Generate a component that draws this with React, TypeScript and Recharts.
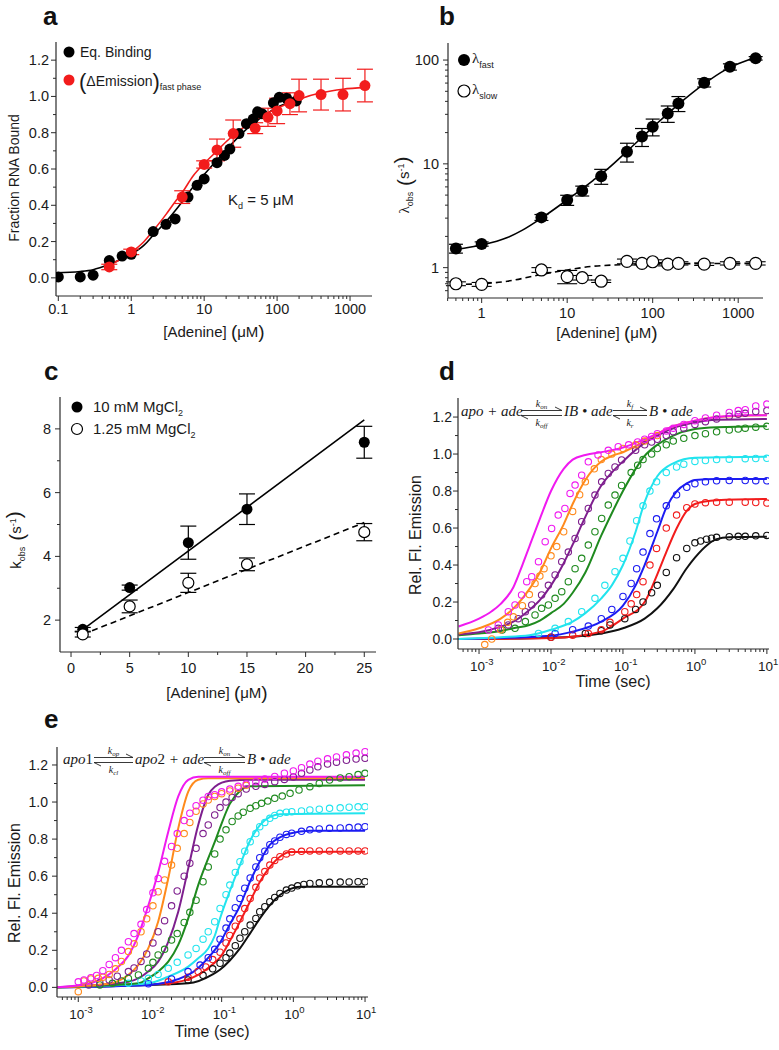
import React from 'react';
import { ComposedChart, Line, Scatter, XAxis, YAxis, ErrorBar } from 'recharts';

// ---------- panel a : fraction bound vs [adenine] ----------
const aEqBinding: [number, number][] = [
  [0.1, 0.005], [0.2, 0.005], [0.3, 0.015], [0.5, 0.095], [0.75, 0.12], [1, 0.13], [2, 0.255], [3, 0.295],
  [4, 0.325], [6, 0.445], [8, 0.51], [10, 0.545], [15, 0.635], [19, 0.675], [22.5, 0.71], [30, 0.795],
  [38, 0.85], [47, 0.875], [54, 0.915], [62, 0.905], [89, 0.965], [107, 0.995], [135, 0.99], [183, 0.975],
];
// [x, y, error]
const aEmission: [number, number, number][] = [
  [0.5, 0.06, 0.015], [1, 0.143, 0.015], [5, 0.445, 0.035], [10, 0.625, 0.02], [15, 0.705, 0.06],
  [25, 0.795, 0.075], [50, 0.825, 0.03], [75, 0.885, 0.05], [100, 0.92, 0.07], [150, 0.96, 0.06],
  [200, 1.005, 0.09], [400, 1.01, 0.085], [800, 1.01, 0.09], [1600, 1.06, 0.09],
];
const aEqFit: [number, number][] = [
  [0.093, 0.028], [0.2, 0.035], [0.3, 0.045], [0.5, 0.075], [0.7, 0.1], [1, 0.13], [1.5, 0.18], [2, 0.235],
  [3, 0.31], [4, 0.37], [5, 0.42], [7, 0.5], [10, 0.57], [15, 0.65], [20, 0.705], [30, 0.78], [50, 0.86],
  [70, 0.9], [100, 0.94], [140, 0.965], [175, 0.98],
];
const aEmFit: [number, number][] = [
  [0.5, 0.07], [0.7, 0.1], [1, 0.14], [1.5, 0.2], [2, 0.26], [3, 0.35], [4, 0.42], [5, 0.47], [7, 0.56],
  [10, 0.63], [15, 0.7], [20, 0.75], [30, 0.81], [50, 0.87], [100, 0.935], [200, 0.985], [400, 1.02],
  [800, 1.04], [1600, 1.05],
];

// ---------- panel b : observed rates ----------
const bFast: [number, number, number][] = [
  [0.5, 1.53, 0.15], [1, 1.69, 0.08], [5, 3.05, 0.2], [10, 4.48, 0.5], [15, 5.5, 0.6], [25, 7.6, 1.25],
  [50, 13.1, 2.7], [75, 18.3, 3.6], [100, 22.8, 4.2], [150, 30.6, 5.5], [200, 38.2, 6.3], [400, 60.5, 5.5],
  [800, 86, 6], [1600, 104, 4],
];
const bFastFit: [number, number][] = [
  [0.5, 1.5], [1, 1.65], [2, 1.95], [3, 2.3], [5, 3.0], [10, 4.5], [20, 6.9], [30, 9.0], [50, 13.2],
  [100, 22.5], [200, 37.5], [400, 59], [700, 80], [1000, 92], [1600, 106],
];
const bSlow: [number, number, number][] = [
  [0.5, 0.7, 0.03], [1, 0.69, 0.03], [5, 0.95, 0.05], [10, 0.82, 0.12], [15, 0.8, 0.04], [25, 0.74, 0.02],
  [50, 1.15, 0.06], [75, 1.1, 0.04], [100, 1.14, 0.05], [150, 1.08, 0.04], [200, 1.1, 0.04], [400, 1.08, 0.03],
  [800, 1.1, 0.04], [1600, 1.1, 0.04],
];
const bSlowFit: [number, number][] = [
  [0.5, 0.69], [1, 0.7], [2, 0.74], [5, 0.86], [10, 0.95], [20, 1.03], [50, 1.07], [100, 1.085], [400, 1.095], [1600, 1.1],
];

// ---------- panel c : k_obs vs [adenine] ----------
const cHighMg: [number, number, number][] = [[1, 1.71, 0.06], [5, 3.02, 0.08], [10, 4.43, 0.52], [15, 5.48, 0.48], [25, 7.58, 0.5]];
const cLowMg: [number, number, number][] = [[1, 1.55, 0.08], [5, 2.43, 0.2], [10, 3.17, 0.3], [15, 3.75, 0.2], [25, 4.76, 0.27]];
const cHighFit: [number, number][] = [[1, 1.7], [25, 8.28]];
const cLowFit: [number, number][] = [[1, 1.55], [25, 5.06]];

// ---------- panel d : kinetic traces, two-step binding model ----------
const dFitMagenta: [number, number][] = [[0.00052, 0.068], [0.001, 0.11], [0.0015, 0.15], [0.002, 0.19], [0.003, 0.28], [0.004, 0.4], [0.005, 0.5], [0.007, 0.65], [0.01, 0.8], [0.015, 0.92], [0.02, 0.97], [0.03, 0.995], [0.05, 1.01], [0.07, 1.02], [0.1, 1.035], [0.2, 1.08], [0.3, 1.11], [0.5, 1.15], [1, 1.18], [2, 1.2], [5, 1.21], [10, 1.21]];
const dFitOrange: [number, number][] = [[0.00052, 0.03], [0.001, 0.058], [0.002, 0.11], [0.003, 0.165], [0.005, 0.27], [0.007, 0.36], [0.01, 0.49], [0.015, 0.62], [0.02, 0.73], [0.03, 0.86], [0.05, 0.96], [0.07, 0.99], [0.1, 1.01], [0.2, 1.07], [0.3, 1.11], [0.5, 1.15], [1, 1.18], [2, 1.2], [10, 1.21]];
const dFitPurple: [number, number][] = [[0.00052, 0.025], [0.001, 0.036], [0.002, 0.067], [0.003, 0.094], [0.005, 0.157], [0.007, 0.21], [0.01, 0.29], [0.015, 0.41], [0.02, 0.51], [0.03, 0.66], [0.05, 0.83], [0.07, 0.9], [0.1, 0.96], [0.2, 1.06], [0.3, 1.1], [0.5, 1.14], [1, 1.17], [2, 1.185], [10, 1.19]];
const dFitGreen: [number, number][] = [[0.00052, 0.02], [0.001, 0.03], [0.002, 0.043], [0.003, 0.058], [0.005, 0.076], [0.007, 0.1], [0.01, 0.14], [0.015, 0.19], [0.02, 0.25], [0.03, 0.36], [0.05, 0.56], [0.07, 0.68], [0.1, 0.8], [0.15, 0.92], [0.2, 0.99], [0.3, 1.05], [0.5, 1.1], [1, 1.135], [2, 1.145], [10, 1.15]];
const dFitCyan: [number, number][] = [[0.00052, 0.0], [0.002, 0.01], [0.005, 0.02], [0.01, 0.05], [0.02, 0.094], [0.03, 0.14], [0.05, 0.22], [0.07, 0.29], [0.1, 0.4], [0.15, 0.58], [0.2, 0.74], [0.3, 0.88], [0.5, 0.95], [1, 0.98], [10, 0.985]];
const dFitBlue: [number, number][] = [[0.00052, 0.0], [0.01, 0.018], [0.02, 0.04], [0.05, 0.094], [0.1, 0.18], [0.15, 0.29], [0.2, 0.4], [0.3, 0.58], [0.4, 0.71], [0.56, 0.8], [0.76, 0.84], [1, 0.86], [2, 0.865], [10, 0.865]];
const dFitRed: [number, number][] = [[0.00052, 0.0], [0.01, 0.005], [0.05, 0.04], [0.07, 0.07], [0.1, 0.11], [0.2, 0.2], [0.3, 0.35], [0.4, 0.47], [0.56, 0.6], [0.76, 0.69], [1, 0.73], [2, 0.75], [10, 0.757]];
const dFitBlack: [number, number][] = [[0.00052, 0.0], [0.01, 0.007], [0.05, 0.03], [0.1, 0.058], [0.2, 0.11], [0.3, 0.166], [0.5, 0.27], [0.76, 0.38], [1, 0.44], [1.5, 0.51], [2, 0.54], [3, 0.55], [10, 0.553]];

const dObsMagenta: [number, number][] = [[0.00135, 0.049], [0.00185, 0.076], [0.00255, 0.148], [0.00316, 0.184], [0.0039, 0.238], [0.0046, 0.31], [0.0054, 0.337], [0.0067, 0.418], [0.0083, 0.526], [0.0102, 0.598], [0.0126, 0.67], [0.0156, 0.706], [0.0184, 0.787], [0.0216, 0.832], [0.0267, 0.886], [0.033, 0.958], [0.045, 0.995], [0.0625, 1.02], [0.086, 1.04], [0.12, 1.05], [0.16, 1.065], [0.2, 1.08], [0.25, 1.095], [0.3, 1.11], [0.4, 1.125], [0.5, 1.14], [0.7, 1.16], [1, 1.18], [1.4, 1.195], [2, 1.21], [3, 1.225], [4, 1.235], [5, 1.24], [7, 1.26], [10, 1.27]];
const dObsOrange: [number, number][] = [[0.0012, -0.03], [0.0015, 0.0], [0.002, 0.05], [0.0025, 0.09], [0.003, 0.12], [0.004, 0.18], [0.005, 0.24], [0.006, 0.3], [0.007, 0.34], [0.008, 0.38], [0.01, 0.45], [0.012, 0.5], [0.015, 0.58], [0.02, 0.69], [0.025, 0.78], [0.03, 0.85], [0.04, 0.92], [0.05, 0.97], [0.07, 1.0], [0.1, 1.03], [0.15, 1.05], [0.2, 1.07], [0.3, 1.1]];
const dObsPurple: [number, number][] = [[0.00185, 0.058], [0.00255, 0.076], [0.0035, 0.11], [0.0044, 0.148], [0.0054, 0.184], [0.0074, 0.238], [0.0092, 0.29], [0.0114, 0.346], [0.0141, 0.418], [0.0174, 0.47], [0.0216, 0.544], [0.0267, 0.634], [0.033, 0.706], [0.0408, 0.778], [0.0506, 0.85], [0.0625, 0.895], [0.0775, 0.93], [0.0957, 0.968], [0.15, 1.02], [0.2, 1.05], [0.25, 1.065], [0.3, 1.08], [0.4, 1.1], [0.5, 1.12], [0.7, 1.14], [1, 1.16], [1.4, 1.175], [2, 1.19], [3, 1.205], [4, 1.215], [5, 1.22], [7, 1.23], [10, 1.235]];
const dObsGreen: [number, number][] = [[0.0021, 0.049], [0.00316, 0.058], [0.0044, 0.094], [0.006, 0.13], [0.0074, 0.166], [0.0092, 0.184], [0.0114, 0.22], [0.0141, 0.256], [0.0174, 0.31], [0.0216, 0.38], [0.0267, 0.436], [0.033, 0.508], [0.0408, 0.58], [0.0506, 0.652], [0.0625, 0.724], [0.0775, 0.778], [0.0957, 0.83], [0.13, 0.9], [0.16, 0.94], [0.19, 0.97], [0.25, 1.0], [0.3, 1.03], [0.4, 1.05], [0.5, 1.07], [0.7, 1.085], [1, 1.1], [1.4, 1.11], [2, 1.12], [3, 1.13], [4, 1.135], [5, 1.14], [7, 1.145], [10, 1.15]];
const dObsCyan: [number, number][] = [[0.0067, 0.03], [0.0114, 0.058], [0.0174, 0.094], [0.0267, 0.148], [0.0408, 0.22], [0.056, 0.29], [0.0775, 0.364], [0.1, 0.436], [0.125, 0.53], [0.155, 0.64], [0.19, 0.72], [0.237, 0.8], [0.293, 0.85], [0.4, 0.9], [0.556, 0.93], [0.7, 0.945], [1, 0.96], [1.4, 0.965], [2, 0.97], [3, 0.972], [5, 0.975], [7, 0.976], [10, 0.977]];
const dObsBlue: [number, number][] = [[0.0114, 0.03], [0.02, 0.05], [0.033, 0.07], [0.05, 0.11], [0.07, 0.16], [0.1, 0.23], [0.13, 0.3], [0.155, 0.38], [0.19, 0.47], [0.237, 0.57], [0.293, 0.65], [0.4, 0.72], [0.556, 0.78], [0.77, 0.82], [1, 0.84], [1.4, 0.85], [2, 0.855], [3, 0.857], [5, 0.857], [7, 0.856], [10, 0.855]];
const dObsRed: [number, number][] = [[0.01, 0.01], [0.02, 0.02], [0.033, 0.03], [0.05, 0.05], [0.066, 0.09], [0.106, 0.148], [0.13, 0.19], [0.155, 0.24], [0.19, 0.31], [0.237, 0.4], [0.293, 0.49], [0.4, 0.6], [0.556, 0.67], [0.77, 0.71], [1, 0.73], [1.4, 0.737], [2, 0.74], [3, 0.74], [5, 0.74], [7, 0.738], [10, 0.735]];
const dObsBlack: [number, number][] = [[0.01, 0.01], [0.03, 0.03], [0.05, 0.045], [0.066, 0.076], [0.106, 0.11], [0.15, 0.16], [0.19, 0.2], [0.25, 0.25], [0.3, 0.29], [0.4, 0.36], [0.556, 0.44], [0.77, 0.49], [1, 0.52], [1.2, 0.53], [1.45, 0.54], [1.7, 0.545], [2, 0.55], [3, 0.553], [4, 0.555], [5, 0.555], [7, 0.558], [10, 0.56]];

// ---------- panel e : kinetic traces, conformational-selection model ----------
const eFitMagenta: [number, number][] = [[0.00047, 0], [0.00138, 0.02], [0.00262, 0.067], [0.0036, 0.11], [0.00498, 0.17], [0.00686, 0.28], [0.00946, 0.44], [0.013, 0.62], [0.018, 0.84], [0.0248, 1.03], [0.0342, 1.12], [0.0471, 1.137], [10, 1.137]];
const eFitOrange: [number, number][] = [[0.00047, 0], [0.00262, 0.02], [0.00498, 0.067], [0.00686, 0.12], [0.00946, 0.21], [0.013, 0.354], [0.018, 0.588], [0.0248, 0.858], [0.0342, 1.056], [0.0471, 1.12], [0.0649, 1.128], [10, 1.13]];
const eFitPurple: [number, number][] = [[0.00047, 0], [0.00498, 0.03], [0.00946, 0.085], [0.013, 0.139], [0.018, 0.246], [0.0248, 0.408], [0.0342, 0.642], [0.0471, 0.876], [0.0649, 1.038], [0.0804, 1.083], [0.13, 1.115], [0.248, 1.12], [10, 1.12]];
const eFitGreen: [number, number][] = [[0.00047, 0], [0.00686, 0.022], [0.00946, 0.049], [0.013, 0.085], [0.018, 0.139], [0.0248, 0.229], [0.0342, 0.372], [0.0471, 0.552], [0.0649, 0.696], [0.0804, 0.786], [0.0946, 0.86], [0.13, 0.99], [0.18, 1.06], [0.248, 1.085], [10, 1.09]];
const eFitCyan: [number, number][] = [[0.00047, 0], [0.00946, 0.022], [0.018, 0.058], [0.0342, 0.112], [0.0471, 0.157], [0.0649, 0.21], [0.0804, 0.28], [0.0946, 0.37], [0.13, 0.52], [0.18, 0.66], [0.248, 0.79], [0.342, 0.876], [0.472, 0.92], [0.65, 0.934], [10, 0.939]];
const eFitBlue: [number, number][] = [[0.00047, 0], [0.00946, 0.013], [0.0342, 0.067], [0.0687, 0.17], [0.0946, 0.24], [0.13, 0.34], [0.18, 0.44], [0.248, 0.57], [0.342, 0.68], [0.472, 0.77], [0.65, 0.81], [0.896, 0.83], [1.7, 0.845], [10, 0.845]];
const eFitRed: [number, number][] = [[0.00047, 0], [0.018, 0.022], [0.0471, 0.067], [0.075, 0.125], [0.0946, 0.16], [0.13, 0.25], [0.18, 0.354], [0.248, 0.462], [0.342, 0.57], [0.472, 0.65], [0.65, 0.705], [0.896, 0.73], [10, 0.732]];
const eFitBlack: [number, number][] = [[0.00047, 0], [0.0342, 0.022], [0.075, 0.07], [0.0946, 0.095], [0.13, 0.145], [0.18, 0.21], [0.248, 0.29], [0.342, 0.372], [0.472, 0.444], [0.65, 0.498], [0.896, 0.53], [1.24, 0.543], [10, 0.543]];

const eObsMagenta: [number, number][] = [[0.001, 0.03], [0.0012, 0.04], [0.0015, 0.052], [0.0018, 0.064], [0.0022, 0.09], [0.0027, 0.124], [0.0033, 0.16], [0.004, 0.2], [0.005, 0.246], [0.006, 0.29], [0.0075, 0.34], [0.009, 0.42], [0.011, 0.51], [0.013, 0.588], [0.016, 0.68], [0.02, 0.76], [0.024, 0.83], [0.03, 0.9], [0.036, 0.94], [0.044, 0.98], [0.055, 1.01], [0.065, 1.03], [0.08, 1.04], [0.1, 1.055], [0.13, 1.07], [0.17, 1.085], [0.22, 1.097], [0.3, 1.11], [0.4, 1.124], [0.55, 1.138], [0.75, 1.156], [1, 1.168], [1.3, 1.185], [1.7, 1.205], [2.2, 1.22], [3, 1.233], [4, 1.243], [5.5, 1.255], [7.5, 1.264], [10, 1.272]];
const eObsOrange: [number, number][] = [[0.001, -0.023], [0.0012, 0.035], [0.0015, 0.045], [0.0019, 0.049], [0.0022, 0.055], [0.0027, 0.07], [0.0033, 0.1], [0.004, 0.14], [0.005, 0.193], [0.006, 0.235], [0.0075, 0.3], [0.009, 0.37], [0.011, 0.44], [0.013, 0.516], [0.016, 0.58], [0.02, 0.66], [0.024, 0.75], [0.03, 0.83], [0.036, 0.89], [0.044, 0.95], [0.055, 0.99], [0.065, 1.011], [0.08, 1.03], [0.1, 1.045], [0.13, 1.06], [0.17, 1.075], [0.22, 1.09]];
const eObsPurple: [number, number][] = [[0.0014, 0.013], [0.002, 0.025], [0.0027, 0.04], [0.0035, 0.06], [0.005, 0.085], [0.006, 0.105], [0.0075, 0.14], [0.009, 0.18], [0.011, 0.24], [0.013, 0.3], [0.016, 0.36], [0.02, 0.44], [0.024, 0.52], [0.03, 0.6], [0.036, 0.67], [0.044, 0.75], [0.055, 0.83], [0.065, 0.876], [0.08, 0.93], [0.095, 0.97], [0.115, 1.0], [0.14, 1.025], [0.17, 1.045], [0.22, 1.07], [0.3, 1.085], [0.4, 1.095], [0.55, 1.11], [0.75, 1.122], [1, 1.135], [1.3, 1.155], [1.7, 1.173], [2.2, 1.19], [3, 1.205], [4, 1.215], [5.5, 1.225], [7.5, 1.232], [10, 1.236]];
const eObsGreen: [number, number][] = [[0.002, 0.013], [0.003, 0.022], [0.004, 0.035], [0.005, 0.048], [0.0069, 0.067], [0.0095, 0.103], [0.011, 0.135], [0.013, 0.175], [0.016, 0.205], [0.02, 0.255], [0.024, 0.29], [0.03, 0.35], [0.036, 0.405], [0.044, 0.47], [0.055, 0.57], [0.065, 0.65], [0.08, 0.72], [0.095, 0.8], [0.115, 0.85], [0.14, 0.895], [0.17, 0.925], [0.2, 0.945], [0.25, 0.966], [0.3, 0.98], [0.36, 0.993], [0.44, 1.005], [0.55, 1.02], [0.7, 1.032], [0.9, 1.047], [1.2, 1.065], [1.7, 1.083], [2.3, 1.1], [3.2, 1.119], [4.5, 1.13], [6, 1.137], [8, 1.148], [10, 1.155]];
const eObsCyan: [number, number][] = [[0.005, 0.022], [0.0075, 0.035], [0.0095, 0.049], [0.013, 0.07], [0.018, 0.103], [0.024, 0.135], [0.034, 0.175], [0.044, 0.21], [0.055, 0.26], [0.065, 0.3], [0.08, 0.354], [0.095, 0.426], [0.115, 0.5], [0.13, 0.552], [0.155, 0.62], [0.18, 0.678], [0.21, 0.735], [0.25, 0.786], [0.3, 0.83], [0.34, 0.867], [0.4, 0.89], [0.47, 0.912], [0.55, 0.928], [0.65, 0.939], [0.8, 0.945], [0.95, 0.948], [1.3, 0.952], [1.7, 0.957], [2.3, 0.961], [3.2, 0.966], [4.5, 0.969], [6, 0.972], [8, 0.974], [10, 0.975]];
const eObsBlue: [number, number][] = [[0.0095, 0.02], [0.02, 0.045], [0.034, 0.085], [0.05, 0.12], [0.065, 0.16], [0.08, 0.205], [0.095, 0.26], [0.115, 0.32], [0.13, 0.37], [0.155, 0.43], [0.18, 0.48], [0.21, 0.535], [0.25, 0.59], [0.3, 0.65], [0.34, 0.7], [0.4, 0.735], [0.47, 0.77], [0.55, 0.79], [0.65, 0.81], [0.8, 0.825], [0.95, 0.832], [1.3, 0.842], [1.7, 0.85], [2.3, 0.855], [3.2, 0.858], [4.5, 0.86], [6, 0.862], [8, 0.865], [10, 0.867]];
const eObsRed: [number, number][] = [[0.018, 0.03], [0.034, 0.055], [0.047, 0.085], [0.06, 0.11], [0.075, 0.15], [0.095, 0.19], [0.115, 0.24], [0.13, 0.28], [0.155, 0.33], [0.18, 0.37], [0.21, 0.425], [0.25, 0.48], [0.3, 0.54], [0.34, 0.59], [0.4, 0.625], [0.47, 0.66], [0.55, 0.685], [0.65, 0.705], [0.8, 0.72], [0.95, 0.73], [1.3, 0.734], [1.7, 0.736], [2.3, 0.736], [3.2, 0.736], [4.5, 0.736], [6, 0.736], [8, 0.736], [10, 0.736]];
const eObsBlack: [number, number][] = [[0.034, 0.04], [0.055, 0.065], [0.075, 0.1], [0.095, 0.13], [0.115, 0.16], [0.13, 0.185], [0.155, 0.225], [0.18, 0.265], [0.21, 0.3], [0.25, 0.336], [0.3, 0.372], [0.34, 0.408], [0.4, 0.435], [0.47, 0.462], [0.55, 0.485], [0.65, 0.507], [0.8, 0.525], [0.95, 0.536], [1.15, 0.548], [1.4, 0.555], [1.7, 0.561], [2.3, 0.564], [3.2, 0.567], [4.5, 0.568], [6, 0.569], [8, 0.57], [10, 0.57]];

// ---------- ticks ----------
const logMajors4 = [0.1, 1, 10, 100, 1000];
const aXMinor = [0.2, 0.3, 0.4, 0.5, 0.6, 0.7, 0.8, 0.9, 2, 3, 4, 5, 6, 7, 8, 9, 20, 30, 40, 50, 60, 70, 80, 90, 200, 300, 400, 500, 600, 700, 800, 900];
const fracMajors = [0, 0.2, 0.4, 0.6, 0.8, 1.0, 1.2];
const fracMinor = [0.1, 0.3, 0.5, 0.7, 0.9, 1.1];
const bXMajors = [1, 10, 100, 1000];
const bXMinor = [0.4, 0.5, 0.6, 0.7, 0.8, 0.9, 2, 3, 4, 5, 6, 7, 8, 9, 20, 30, 40, 50, 60, 70, 80, 90, 200, 300, 400, 500, 600, 700, 800, 900];
const bYMajors = [1, 10, 100];
const bYMinor = [0.6, 0.7, 0.8, 0.9, 2, 3, 4, 5, 6, 7, 8, 9, 20, 30, 40, 50, 60, 70, 80, 90];
const cXMajors = [0, 5, 10, 15, 20, 25];
const cXMinor = [2.5, 7.5, 12.5, 17.5, 22.5];
const cYMajors = [2, 4, 6, 8];
const cYMinor = [3, 5, 7];
const timeMajors = [0.001, 0.01, 0.1, 1, 10];
const timeMinor = [0.0006, 0.0007, 0.0008, 0.0009, 0.002, 0.003, 0.004, 0.005, 0.006, 0.007, 0.008, 0.009, 0.02, 0.03, 0.04, 0.05, 0.06, 0.07, 0.08, 0.09, 0.2, 0.3, 0.4, 0.5, 0.6, 0.7, 0.8, 0.9, 2, 3, 4, 5, 6, 7, 8, 9];

const SANS = '"Liberation Sans", Arial, sans-serif';
const SERIF = '"Liberation Serif", "Times New Roman", serif';
const AX = '#2a2a2a';
const TXT = '#1a1a1a';

const C = {
  magenta: '#f01af0',
  orange: '#ff8a1c',
  purple: '#7e1f8e',
  green: '#1f8a1f',
  cyan: '#22e4ee',
  blue: '#1c1cf2',
  red: '#f21c1c',
  black: '#111111',
};

const pts = (arr: [number, number][]) => arr.map(([x, y]) => ({ x, y }));
const ptsErr = (arr: [number, number, number][]) => arr.map(([x, y, e]) => ({ x, y, e }));
const has = (list: number[], v: number) => list.some((m) => Math.abs(m - v) <= Math.abs(m) * 1e-6 + 1e-9);

const fix1 = (v: number) => v.toFixed(1);
const plain = (v: number) => String(v);
const pow10 = (v: number) => (
  <>
    <tspan>10</tspan>
    <tspan dy={-6} fontSize={9.5}>{Math.round(Math.log10(v))}</tspan>
  </>
);

const xTick = (majors: number[], fmt: (v: number) => React.ReactNode, dy: number, size: number, shift = 0) => (p: any) => {
  const major = has(majors, p.payload.value);
  return (
    <g>
      <line x1={p.x} x2={p.x} y1={p.y} y2={p.y + (major ? 5 : 3)} stroke={AX} strokeWidth={1} />
      {major && (
        <text x={p.x + shift} y={p.y + dy} textAnchor={shift ? 'start' : 'middle'} fontFamily={SANS} fontSize={size} fill={TXT}>
          {fmt(p.payload.value)}
        </text>
      )}
    </g>
  );
};

const yTick = (majors: number[], fmt: (v: number) => React.ReactNode, gap: number, size: number) => (p: any) => {
  const major = has(majors, p.payload.value);
  return (
    <g>
      <line x1={p.x} x2={p.x - (major ? 5 : 3)} y1={p.y} y2={p.y} stroke={AX} strokeWidth={1} />
      {major && (
        <text x={p.x - gap} y={p.y + 5} textAnchor="end" fontFamily={SANS} fontSize={size} fill={TXT}>
          {fmt(p.payload.value)}
        </text>
      )}
    </g>
  );
};

const dot = (r: number, fill: string, stroke: string, sw = 1) => (p: any) =>
  p.cx == null ? <g /> : <circle cx={p.cx} cy={p.cy} r={r} fill={fill} stroke={stroke} strokeWidth={sw} />;

type PanelCfg = {
  box: [number, number, number, number];
  plot: [number, number, number, number];
  xLog: boolean;
  yLog: boolean;
  xDomain: [number, number];
  yDomain: [number, number];
  xTicks: number[];
  yTicks: number[];
  xTickEl: (p: any) => React.ReactElement;
  yTickEl: (p: any) => React.ReactElement;
};

const YW = 40;
const XH = 24;

function Panel({ cfg, children }: { cfg: PanelCfg; children: React.ReactNode }) {
  const [bl, bt, bw, bh] = cfg.box;
  const [pl, pt, pr, pb] = cfg.plot;
  const margin = { left: pl - bl - YW, top: pt - bt, right: bl + bw - pr, bottom: bt + bh - pb - XH };
  return (
    <div style={{ position: 'absolute', left: bl, top: bt, width: bw, height: bh }}>
      <ComposedChart width={bw} height={bh} margin={margin}>
        <XAxis
          dataKey="x"
          type="number"
          scale={cfg.xLog ? 'log' : 'linear'}
          domain={cfg.xDomain}
          allowDataOverflow
          ticks={cfg.xTicks}
          interval={0}
          height={XH}
          tickSize={0}
          tickMargin={0}
          tickLine={false}
          axisLine={{ stroke: AX, strokeWidth: 1.2 }}
          tick={cfg.xTickEl}
        />
        <XAxis xAxisId="top" orientation="top" type="number" domain={[0, 1]} height={0} tick={false} tickLine={false} axisLine={{ stroke: AX, strokeWidth: 1.2 }} />
        <YAxis
          dataKey="y"
          type="number"
          scale={cfg.yLog ? 'log' : 'linear'}
          domain={cfg.yDomain}
          allowDataOverflow
          ticks={cfg.yTicks}
          interval={0}
          width={YW}
          tickSize={0}
          tickMargin={0}
          tickLine={false}
          axisLine={{ stroke: AX, strokeWidth: 1.2 }}
          tick={cfg.yTickEl}
        />
        <YAxis yAxisId="right" orientation="right" type="number" domain={[0, 1]} width={0} tick={false} tickLine={false} axisLine={{ stroke: AX, strokeWidth: 1.2 }} />
        {children}
      </ComposedChart>
    </div>
  );
}

const fitLine = (key: string, data: [number, number][], color: string, width = 1.6, dash?: string) => (
  <Line
    key={key}
    data={pts(data)}
    dataKey="y"
    type="monotone"
    stroke={color}
    strokeWidth={width}
    strokeDasharray={dash}
    dot={false}
    activeDot={false}
    isAnimationActive={false}
    legendType="none"
  />
);

const cfgA: PanelCfg = {
  box: [0, 0, 390, 322],
  plot: [56, 42, 372, 296],
  xLog: true,
  yLog: false,
  xDomain: [0.093, 2000],
  yDomain: [-0.1, 1.3],
  xTicks: [...logMajors4, ...aXMinor],
  yTicks: [...fracMajors, ...fracMinor],
  xTickEl: xTick(logMajors4, plain, 18, 14.5),
  yTickEl: yTick(fracMajors, fix1, 7, 14.5),
};
const cfgB: PanelCfg = {
  box: [390, 0, 389, 322],
  plot: [448, 43, 763, 298],
  xLog: true,
  yLog: true,
  xDomain: [0.404, 1950],
  yDomain: [0.51, 146],
  xTicks: [...bXMajors, ...bXMinor],
  yTicks: [...bYMajors, ...bYMinor],
  xTickEl: xTick(bXMajors, plain, 20, 14.5),
  yTickEl: yTick(bYMajors, plain, 9, 14.5),
};
const cfgC: PanelCfg = {
  box: [0, 340, 390, 340],
  plot: [60, 397, 376, 652],
  xLog: false,
  yLog: false,
  xDomain: [-0.94, 26],
  yDomain: [1.0, 9.0],
  xTicks: [...cXMajors, ...cXMinor],
  yTicks: [...cYMajors, ...cYMinor],
  xTickEl: xTick(cXMajors, plain, 21, 14.5),
  yTickEl: yTick(cYMajors, plain, 9, 14.5),
};
const cfgD: PanelCfg = {
  box: [390, 340, 389, 340],
  plot: [458, 398, 769, 649],
  xLog: true,
  yLog: false,
  xDomain: [0.00051, 10.7],
  yDomain: [-0.054, 1.303],
  xTicks: [...timeMajors, ...timeMinor],
  yTicks: [...fracMajors, ...fracMinor],
  xTickEl: xTick(timeMajors, pow10, 22, 13.5, -9),
  yTickEl: yTick(fracMajors, fix1, 6, 14),
};
const cfgE: PanelCfg = {
  box: [0, 700, 390, 340],
  plot: [57, 747, 368, 997],
  xLog: true,
  yLog: false,
  xDomain: [0.000505, 11],
  yDomain: [-0.052, 1.297],
  xTicks: [...timeMajors, ...timeMinor],
  yTicks: [...fracMajors, ...fracMinor],
  xTickEl: xTick(timeMajors, pow10, 22, 13.5, -9),
  yTickEl: yTick(fracMajors, fix1, 9, 14),
};

const dSeries = [
  { key: 'black', color: C.black, fit: dFitBlack, obs: dObsBlack },
  { key: 'red', color: C.red, fit: dFitRed, obs: dObsRed },
  { key: 'blue', color: C.blue, fit: dFitBlue, obs: dObsBlue },
  { key: 'cyan', color: C.cyan, fit: dFitCyan, obs: dObsCyan },
  { key: 'green', color: C.green, fit: dFitGreen, obs: dObsGreen },
  { key: 'purple', color: C.purple, fit: dFitPurple, obs: dObsPurple },
  { key: 'orange', color: C.orange, fit: dFitOrange, obs: dObsOrange },
  { key: 'magenta', color: C.magenta, fit: dFitMagenta, obs: dObsMagenta },
];
const eSeries = [
  { key: 'black', color: C.black, fit: eFitBlack, obs: eObsBlack },
  { key: 'red', color: C.red, fit: eFitRed, obs: eObsRed },
  { key: 'blue', color: C.blue, fit: eFitBlue, obs: eObsBlue },
  { key: 'cyan', color: C.cyan, fit: eFitCyan, obs: eObsCyan },
  { key: 'green', color: C.green, fit: eFitGreen, obs: eObsGreen },
  { key: 'purple', color: C.purple, fit: eFitPurple, obs: eObsPurple },
  { key: 'orange', color: C.orange, fit: eFitOrange, obs: eObsOrange },
  { key: 'magenta', color: C.magenta, fit: eFitMagenta, obs: eObsMagenta },
];

const traces = (series: typeof dSeries, prefix: string) =>
  series.flatMap((s) => [
    <Scatter key={`${prefix}-o-${s.key}`} data={pts(s.obs)} dataKey="y" shape={dot(3.2, 'none', s.color, 1.1)} isAnimationActive={false} legendType="none" />,
    fitLine(`${prefix}-f-${s.key}`, s.fit, s.color, 2),
  ]);

// equilibrium double harpoon with rate constants above/below
function Harpoon({ x, y, w, top, bot }: { x: number; y: number; w: number; top: string; bot: string }) {
  return (
    <g>
      <g stroke="#222" strokeWidth={0.9} fill="none">
        <line x1={x} y1={y - 2.5} x2={x + w} y2={y - 2.5} />
        <line x1={x + w} y1={y - 2.5} x2={x + w - 7} y2={y - 6} />
        <line x1={x} y1={y + 2.5} x2={x + w} y2={y + 2.5} />
        <line x1={x} y1={y + 2.5} x2={x + 7} y2={y + 6} />
      </g>
      <text x={x + w / 2} y={y - 6} textAnchor="middle" fontFamily={SERIF} fontStyle="italic" fontSize={10} fill={TXT}>
        k<tspan fontSize={7} dy={2}>{top}</tspan>
      </text>
      <text x={x + w / 2} y={y + 13} textAnchor="middle" fontFamily={SERIF} fontStyle="italic" fontSize={10} fill={TXT}>
        k<tspan fontSize={7} dy={2}>{bot}</tspan>
      </text>
    </g>
  );
}

const eqStyle = { fontFamily: SERIF, fontStyle: 'italic' as const, fontSize: 15, fill: TXT };

function Overlay() {
  const letter = { fontFamily: SANS, fontWeight: 700, fontSize: 26, fill: '#111' };
  const t15 = { fontFamily: SANS, fontSize: 15, fill: TXT };
  const adenine = (cx: number, y: number) => (
    <text x={cx} y={y} textAnchor="middle" {...t15}>
      [Adenine]{' '}
      <tspan fontSize={19} dy={1}>(</tspan>
      <tspan dy={-1}>μM</tspan>
      <tspan fontSize={19} dy={1}>)</tspan>
    </text>
  );
  return (
    <svg width={779} height={1050} style={{ position: 'absolute', left: 0, top: 0, pointerEvents: 'none' }}>
      {/* panel letters */}
      <text x={43} y={25} {...letter}>a</text>
      <text x={439} y={25} {...letter}>b</text>
      <text x={44} y={380} {...letter}>c</text>
      <text x={439} y={380} {...letter}>d</text>
      <text x={44} y={728} {...letter}>e</text>

      {/* panel a */}
      <circle cx={69} cy={52} r={5.5} fill="#000" />
      <text x={80} y={57} {...t15} fontSize={14}>Eq. Binding</text>
      <circle cx={69} cy={80} r={5.5} fill={C.red} />
      <text x={79} y={86} {...t15} fontSize={14}>
        <tspan fontSize={22} dy={3}>(</tspan>
        <tspan dy={-3}>ΔEmission</tspan>
        <tspan fontSize={22} dy={3}>)</tspan>
        <tspan fontSize={9} dy={1}>fast phase</tspan>
      </text>
      <text x={228} y={205} {...t15}>
        K<tspan fontSize={9} dy={4}>d</tspan>
        <tspan dy={-4}> = 5 μM</tspan>
      </text>
      {adenine(214, 337)}
      <text transform="translate(19,178) rotate(-90)" textAnchor="middle" {...t15} fontSize={14}>Fraction RNA Bound</text>

      {/* panel b */}
      <circle cx={464} cy={60} r={6} fill="#000" />
      <text x={472} y={63} fontFamily={SERIF} fontSize={15} fill={TXT}>
        λ<tspan fontFamily={SANS} fontSize={9} dy={5}>fast</tspan>
      </text>
      <circle cx={464} cy={91} r={6} fill="#fff" stroke="#000" strokeWidth={1.2} />
      <text x={472} y={94} fontFamily={SERIF} fontSize={15} fill={TXT}>
        λ<tspan fontFamily={SANS} fontSize={9} dy={5}>slow</tspan>
      </text>
      {adenine(607, 338)}
      <text transform="translate(409,185) rotate(-90)" textAnchor="middle" {...t15}>
        <tspan fontFamily={SERIF}>λ</tspan>
        <tspan fontSize={9} dy={4}>obs</tspan>
        <tspan fontSize={21} dy={-1}> (</tspan>
        <tspan dy={-3}>s</tspan>
        <tspan fontSize={9} dy={-5}>-1</tspan>
        <tspan fontSize={21} dy={5}>)</tspan>
      </text>

      {/* panel c */}
      <circle cx={77} cy={407} r={5.5} fill="#000" />
      <text x={93} y={412} {...t15}>
        10 mM MgCl<tspan fontSize={9} dy={4}>2</tspan>
      </text>
      <circle cx={77} cy={429} r={5.5} fill="#fff" stroke="#000" strokeWidth={1.2} />
      <text x={93} y={434} {...t15}>
        1.25 mM MgCl<tspan fontSize={9} dy={4}>2</tspan>
      </text>
      {adenine(217, 698)}
      <text transform="translate(21,540) rotate(-90)" textAnchor="middle" {...t15}>
        k<tspan fontSize={9} dy={4}>obs</tspan>
        <tspan fontSize={21} dy={-1}> (</tspan>
        <tspan dy={-3}>s</tspan>
        <tspan fontSize={9} dy={-5}>-1</tspan>
        <tspan fontSize={21} dy={5}>)</tspan>
      </text>

      {/* panel d */}
      <text x={461} y={416} {...eqStyle}>apo + ade</text>
      <Harpoon x={521} y={413} w={41} top="on" bot="off" />
      <text x={564} y={416} {...eqStyle}>IB • ade</text>
      <Harpoon x={613} y={413} w={34} top="f" bot="r" />
      <text x={649} y={416} {...eqStyle}>B • ade</text>
      <text x={613} y={687} textAnchor="middle" {...t15} fontSize={16}>Time (sec)</text>
      <text transform="translate(421,535) rotate(-90)" textAnchor="middle" {...t15} fontSize={16}>Rel. Fl. Emission</text>

      {/* panel e */}
      <text x={63} y={764} {...eqStyle}>apo<tspan fontStyle="normal">1</tspan></text>
      <Harpoon x={94} y={760} w={39} top="op" bot="cl" />
      <text x={135} y={764} {...eqStyle}>apo<tspan fontStyle="normal">2</tspan> + ade</text>
      <Harpoon x={204} y={760} w={41} top="on" bot="off" />
      <text x={247} y={764} {...eqStyle}>B • ade</text>
      <text x={212} y={1037} textAnchor="middle" {...t15} fontSize={16}>Time (sec)</text>
      <text transform="translate(20,883) rotate(-90)" textAnchor="middle" {...t15} fontSize={16}>Rel. Fl. Emission</text>
    </svg>
  );
}

export default function App() {
  return (
    <div style={{ position: 'absolute', left: 0, top: 0, width: 779, height: 1050, background: '#fff' }}>
      <Panel cfg={cfgA}>
        {fitLine('a-eq-fit', aEqFit, '#000', 1.6)}
        <Scatter data={pts(aEqBinding)} dataKey="y" shape={dot(5.5, '#000', '#000', 0)} isAnimationActive={false} legendType="none" />
        {fitLine('a-em-fit', aEmFit, C.red, 1.6)}
        <Scatter data={ptsErr(aEmission)} dataKey="y" shape={dot(5.5, C.red, C.red, 0)} isAnimationActive={false} legendType="none">
          <ErrorBar dataKey="e" direction="y" width={8} stroke={C.red} strokeWidth={1.2} />
        </Scatter>
      </Panel>

      <Panel cfg={cfgB}>
        {fitLine('b-fast-fit', bFastFit, '#000', 1.6)}
        <Scatter data={ptsErr(bFast)} dataKey="y" shape={dot(6, '#000', '#000', 0)} isAnimationActive={false} legendType="none">
          <ErrorBar dataKey="e" direction="y" width={7} stroke="#000" strokeWidth={1.2} />
        </Scatter>
        {fitLine('b-slow-fit', bSlowFit, '#000', 1.6, '6 4')}
        <Scatter data={ptsErr(bSlow)} dataKey="y" shape={dot(6, '#fff', '#000', 1.2)} isAnimationActive={false} legendType="none">
          <ErrorBar dataKey="e" direction="y" width={10} stroke="#000" strokeWidth={1.1} />
        </Scatter>
      </Panel>

      <Panel cfg={cfgC}>
        {fitLine('c-high-fit', cHighFit, '#000', 1.6)}
        {fitLine('c-low-fit', cLowFit, '#000', 1.6, '6 4')}
        <Scatter data={ptsErr(cHighMg)} dataKey="y" shape={dot(5.5, '#000', '#000', 0)} isAnimationActive={false} legendType="none">
          <ErrorBar dataKey="e" direction="y" width={8} stroke="#000" strokeWidth={1.2} />
        </Scatter>
        <Scatter data={ptsErr(cLowMg)} dataKey="y" shape={dot(5.5, '#fff', '#000', 1.2)} isAnimationActive={false} legendType="none">
          <ErrorBar dataKey="e" direction="y" width={8} stroke="#000" strokeWidth={1.2} />
        </Scatter>
      </Panel>

      <Panel cfg={cfgD}>{traces(dSeries, 'd')}</Panel>
      <Panel cfg={cfgE}>{traces(eSeries, 'e')}</Panel>

      <Overlay />
    </div>
  );
}
